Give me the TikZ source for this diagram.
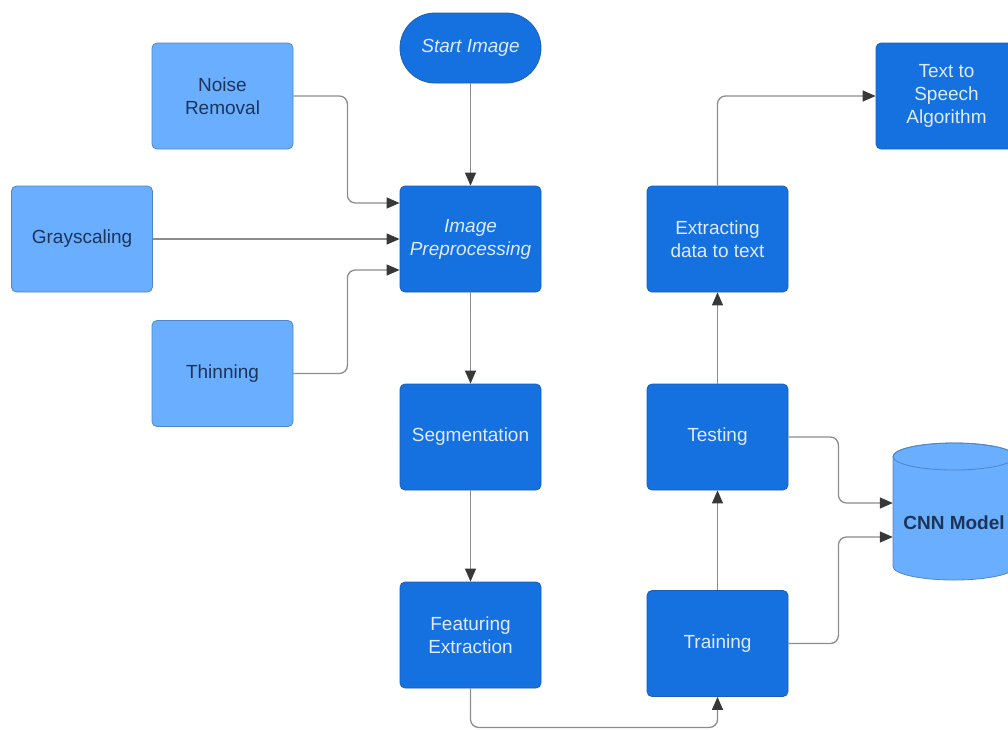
\documentclass[tikz,border=0pt]{standalone}
\usepackage{fontspec}
\setmainfont{Liberation Sans}
\usetikzlibrary{arrows.meta}
\definecolor{dblue}{HTML}{1570E0}
\definecolor{dborder}{HTML}{1A5EB8}
\definecolor{lblue}{HTML}{6AAEFF}
\definecolor{lborder}{HTML}{4F86C6}
\definecolor{ltext}{HTML}{DCEBFF}
\definecolor{dtext}{HTML}{1C3557}
\definecolor{conngray}{HTML}{8C8C8C}
\definecolor{tipgray}{HTML}{383838}
\newcommand{\fnt}{\fontsize{19}{23}\selectfont}
\begin{document}
\begin{tikzpicture}[x=1pt,y=-1pt,
  box/.style={rectangle, rounded corners=5pt, minimum width=141pt, minimum height=106pt, align=center, font=\fnt, inner sep=0pt, line width=0.8pt},
  dark/.style={box, fill=dblue, draw=dborder, text=ltext},
  light/.style={box, fill=lblue, draw=lborder, text=dtext},
  link/.style={draw=conngray, line width=1.3pt, rounded corners=8pt, -{Triangle[length=13pt,width=11pt,color=tipgray]}},
]
\useasboundingbox (0,0) rectangle (1008,729);

\node[dark, rounded corners=35pt, minimum height=70pt, font=\fnt\itshape] (start) at (470.5,48) {Start Image};
\node[light] (noise) at (222.5,96) {Noise\\Removal};
\node[light] (gray) at (82,239) {Grayscaling};
\node[light] (thin) at (222.5,373.5) {Thinning};
\node[dark, font=\fnt\itshape] (pre) at (470.5,239) {Image\\Preprocessing};
\node[dark] (seg) at (470.5,437) {Segmentation};
\node[dark] (feat) at (470.5,635) {Featuring\\Extraction};
\node[dark] (ext) at (717.5,239) {Extracting\\data to text};
\node[dark] (test) at (717.5,437) {Testing};
\node[dark] (train) at (717.5,643.5) {Training};
\node[dark] (tts) at (946.5,96) {Text to\\Speech\\Algorithm};

% CNN cylinder
\node[minimum width=122pt, minimum height=137pt, inner sep=0pt] (cnn) at (954,511.5) {};
\filldraw[fill=lblue, draw=lborder, line width=0.8pt]
  (893,456.5) -- (893,566.5) arc[start angle=180, end angle=0, x radius=61, y radius=13.5]
  -- (1015,456.5) arc[start angle=0, end angle=-180, x radius=61, y radius=13.5] -- cycle;
\draw[lborder, line width=0.8pt] (954,456.5) ellipse[x radius=61, y radius=13.5];
\node[font=\fnt\bfseries, text=dtext] (cnnlabel) at (954,523) {CNN Model};

% connectors
\draw[link] (start) -- (pre);
\draw[link] (noise.east) -- ++(54,0) |- ([yshift=36pt]pre.west);
\draw[link] (gray.east) -- (pre.west);
\draw[link] (thin.east) -- ++(54,0) |- ([yshift=-31pt]pre.west);
\draw[link] (pre) -- (seg);
\draw[link] (seg) -- (feat);
\draw[link] (feat.south) -- ++(0,39) -| (train.south);
\draw[link] (train) -- (test);
\draw[link] (test) -- (ext);
\draw[link] (ext.north) |- (tts.west);
\draw[link] (test.east) -- ++(50,0) |- ([yshift=8.5pt]cnn.west);
\draw[link] (train.east) -- ++(50,0) |- ([yshift=-25.5pt]cnn.west);
\end{tikzpicture}
\end{document}
